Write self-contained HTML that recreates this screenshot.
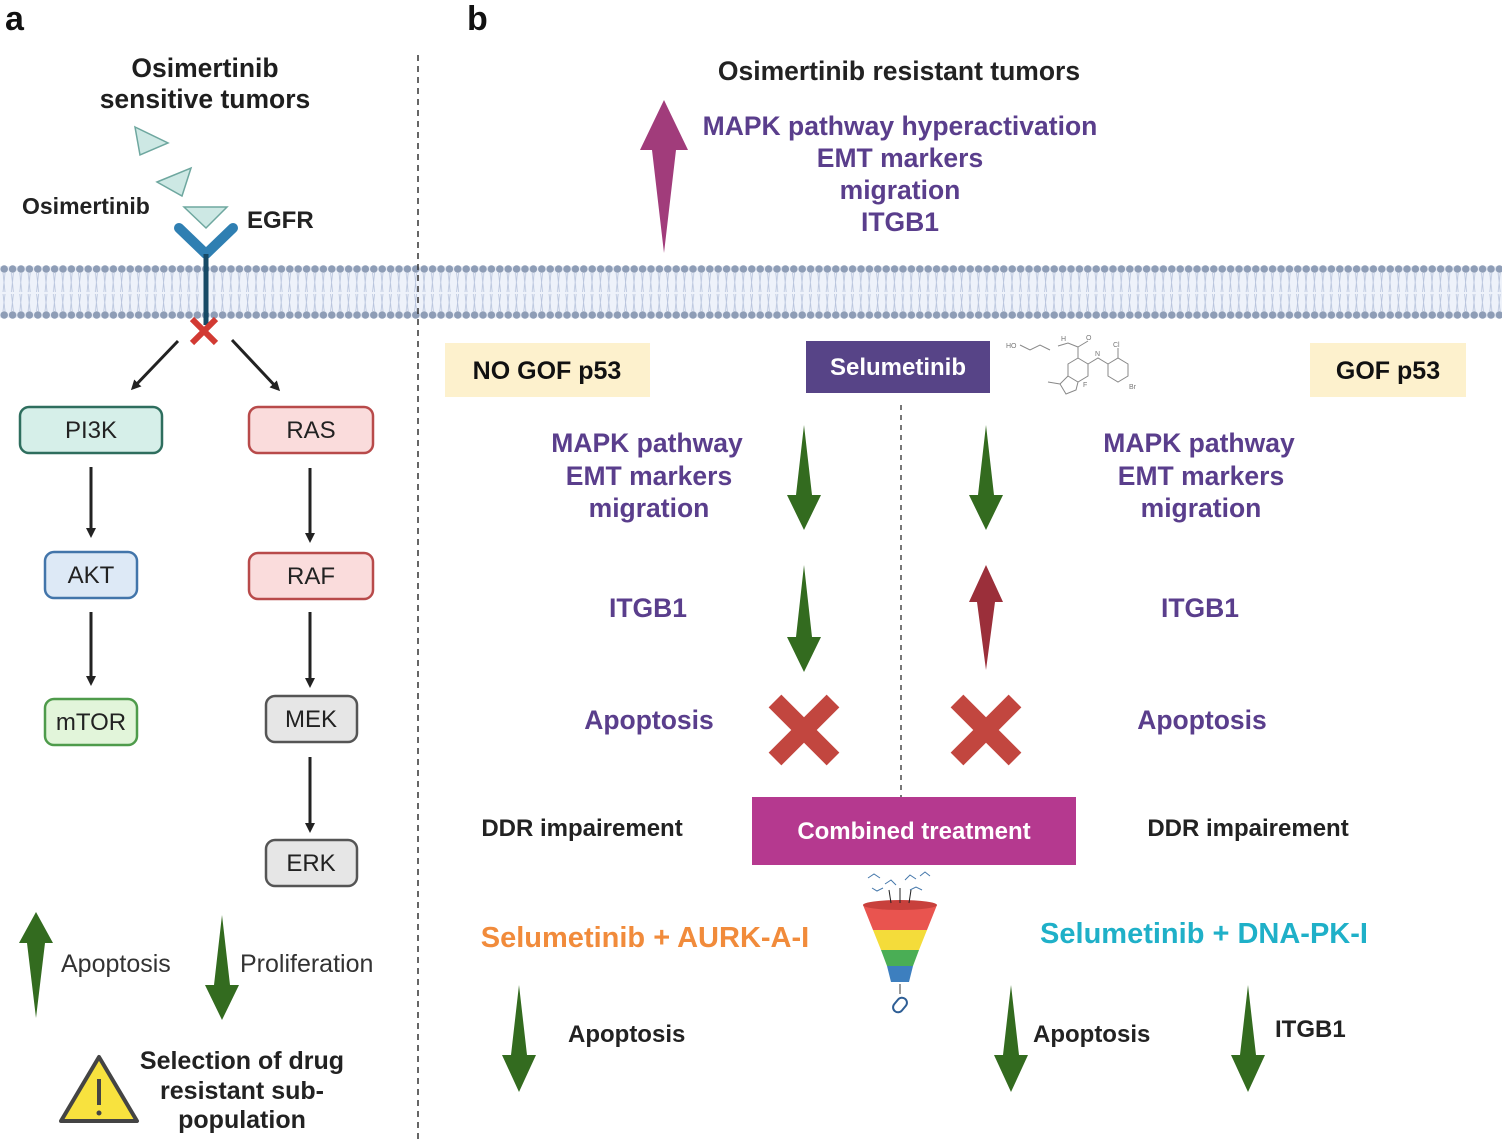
<!DOCTYPE html>
<html><head><meta charset="utf-8"><style>
html,body{margin:0;padding:0;background:#fff}
svg{display:block}
text{font-family:"Liberation Sans",Arial,sans-serif}
</style></head><body>
<svg width="1502" height="1144" viewBox="0 0 1502 1144" xmlns="http://www.w3.org/2000/svg">
<defs>
<pattern id="bead" x="0" y="262" width="8.4" height="60" patternUnits="userSpaceOnUse">
<path d="M3 11 L5 30 M5 11 L3 30 M3 32 L5 49 M5 32 L3 49" stroke="#b7c3dc" stroke-width="0.8" fill="none"/>
<circle cx="4.2" cy="7" r="3.8" fill="#8e9db6"/>
<circle cx="4.2" cy="53" r="3.8" fill="#8e9db6"/>
</pattern>
<marker id="ah" markerWidth="10" markerHeight="10" refX="7" refY="5" orient="auto" markerUnits="userSpaceOnUse" viewBox="0 0 10 10"><path d="M0,0 L10,5 L0,10 z" fill="#222"/></marker>
</defs>
<rect x="0" y="266" width="1502" height="52" fill="#eef2fa"/>
<rect x="0" y="262" width="1502" height="60" fill="url(#bead)"/>

<line x1="418" y1="55" x2="418" y2="1144" stroke="#333" stroke-width="1.5" stroke-dasharray="6,5"/>
<line x1="901" y1="405" x2="901" y2="797" stroke="#777" stroke-width="2" stroke-dasharray="5,5"/>

<text x="5" y="30" font-size="34" font-weight="bold" fill="#111">a</text>
<text x="467" y="30" font-size="34" font-weight="bold" fill="#111">b</text>

<g font-weight="bold" fill="#1e1e1e" font-size="26.5" text-anchor="middle">
<text x="205" y="77">Osimertinib</text>
<text x="205" y="108">sensitive tumors</text>
</g>
<text x="22" y="214" font-size="23" font-weight="bold" fill="#222">Osimertinib</text>
<text x="247" y="228" font-size="24" font-weight="bold" fill="#222">EGFR</text>
<polygon points="135,127 168,143 140,155" fill="#cde8e4" stroke="#6ea79f" stroke-width="1.5"/>
<polygon points="157,182 191,168 182,196" fill="#cde8e4" stroke="#6ea79f" stroke-width="1.5"/>
<polygon points="184,207 227,207 206,228" fill="#cde8e4" stroke="#6ea79f" stroke-width="1.5"/>
<path d="M179,228 L206,254 L233,228" fill="none" stroke="#2f7fb2" stroke-width="10" stroke-linecap="round" stroke-linejoin="round"/>
<line x1="206" y1="254" x2="206" y2="325" stroke="#174a66" stroke-width="5"/>
<path d="M192,319 L216,343 M216,319 L192,343" stroke="#d23a33" stroke-width="6"/>
<line x1="178" y1="341" x2="133" y2="388" stroke="#222" stroke-width="3" marker-end="url(#ah)"/>
<line x1="232" y1="340" x2="278" y2="389" stroke="#222" stroke-width="3" marker-end="url(#ah)"/>

<g font-size="24" text-anchor="middle" fill="#222" stroke-width="2.5">
<rect x="20" y="407" width="142" height="46" rx="9" fill="#d6efe9" stroke="#2e6e5e"/><text x="91" y="438" stroke="none">PI3K</text>
<rect x="249" y="407" width="124" height="46" rx="9" fill="#fadcdc" stroke="#b84a4a"/><text x="311" y="438" stroke="none">RAS</text>
<rect x="45" y="552" width="92" height="46" rx="9" fill="#dde9f6" stroke="#4275aa"/><text x="91" y="583" stroke="none">AKT</text>
<rect x="249" y="553" width="124" height="46" rx="9" fill="#fadcdc" stroke="#b84a4a"/><text x="311" y="584" stroke="none">RAF</text>
<rect x="45" y="699" width="92" height="46" rx="9" fill="#e2f5da" stroke="#4e9b4b"/><text x="91" y="730" stroke="none">mTOR</text>
<rect x="266" y="696" width="91" height="46" rx="9" fill="#e6e6e6" stroke="#555"/><text x="311" y="727" stroke="none">MEK</text>
<rect x="266" y="840" width="91" height="46" rx="9" fill="#e6e6e6" stroke="#555"/><text x="311" y="871" stroke="none">ERK</text>
</g>
<g stroke="#222" stroke-width="3" marker-end="url(#ah)">
<line x1="91" y1="467" x2="91" y2="535"/>
<line x1="310" y1="468" x2="310" y2="540"/>
<line x1="91" y1="612" x2="91" y2="683"/>
<line x1="310" y1="612" x2="310" y2="685"/>
<line x1="310" y1="757" x2="310" y2="830"/>
</g>

<g fill="#336b1f">
<polygon points="36,912 53,943 45,943 36,1018 27,943 19,943"/>
<polygon points="222,915 230,985 239,985 222,1020 205,985 214,985"/>
</g>
<text x="61" y="972" font-size="25" fill="#333">Apoptosis</text>
<text x="240" y="972" font-size="25" fill="#333">Proliferation</text>
<polygon points="61,1121 99,1057 137,1121" fill="#f8e23e" stroke="#444" stroke-width="4" stroke-linejoin="round"/>
<line x1="99" y1="1079" x2="99" y2="1105" stroke="#444" stroke-width="4"/>
<circle cx="99" cy="1113" r="2.5" fill="#444"/>
<g font-size="25" font-weight="bold" fill="#222" text-anchor="middle">
<text x="242" y="1069">Selection of drug</text>
<text x="242" y="1099">resistant sub-</text>
<text x="242" y="1128">population</text>
</g>

<text x="899" y="80" font-size="26.5" font-weight="bold" fill="#222" text-anchor="middle">Osimertinib resistant tumors</text>
<polygon points="664,100 688,150 676,150 664,253 652,150 640,150" fill="#a13c7b"/>
<g font-size="26.5" font-weight="bold" fill="#5a3e8c" text-anchor="middle">
<text x="900" y="135">MAPK pathway hyperactivation</text>
<text x="900" y="167">EMT markers</text>
<text x="900" y="199">migration</text>
<text x="900" y="231">ITGB1</text>
</g>

<rect x="445" y="343" width="205" height="54" fill="#fdf1cd"/>
<text x="547" y="379" font-size="25" font-weight="bold" fill="#111" text-anchor="middle">NO GOF p53</text>
<rect x="1310" y="343" width="156" height="54" fill="#fdf1cd"/>
<text x="1388" y="379" font-size="25" font-weight="bold" fill="#111" text-anchor="middle">GOF p53</text>
<rect x="806" y="341" width="184" height="52" fill="#574487"/>
<text x="898" y="375" font-size="24" font-weight="bold" fill="#fff" text-anchor="middle">Selumetinib</text>

<g stroke="#888" stroke-width="1" fill="none">
<path d="M1020,345 L1030,350 L1040,345 L1050,350 M1058,346 L1068,343 L1078,347 L1078,358 L1068,364 L1068,376 L1078,382 L1088,376 L1088,364 L1078,358 M1078,347 L1088,341 M1088,364 L1098,358 L1108,364 L1108,376 L1118,382 L1128,376 L1128,364 L1118,358 L1108,364 M1118,358 L1118,348 M1068,376 L1060,384 L1066,394 L1076,390 L1078,382 M1060,384 L1048,382"/>
</g>
<g font-size="7" fill="#777"><text x="1006" y="348">HO</text><text x="1061" y="341">H</text><text x="1086" y="340">O</text><text x="1095" y="356">N</text><text x="1113" y="347">Cl</text><text x="1129" y="389">Br</text><text x="1083" y="387">F</text></g>

<g font-size="26.5" font-weight="bold" fill="#5a3e8c" text-anchor="middle">
<text x="647" y="452">MAPK pathway</text>
<text x="649" y="485">EMT markers</text>
<text x="649" y="517">migration</text>
<text x="1199" y="452">MAPK pathway</text>
<text x="1201" y="485">EMT markers</text>
<text x="1201" y="517">migration</text>
<text x="648" y="617">ITGB1</text>
<text x="1200" y="617">ITGB1</text>
<text x="649" y="729">Apoptosis</text>
<text x="1202" y="729">Apoptosis</text>
</g>
<g fill="#336b1f">
<polygon points="804,425 812,495 821,495 804,530 787,495 796,495"/>
<polygon points="986,425 994,495 1003,495 986,530 969,495 978,495"/>
<polygon points="804,565 812,637 821,637 804,672 787,637 796,637"/>
<polygon points="519,985 527,1055 536,1055 519,1092 502,1055 511,1055"/>
<polygon points="1011,985 1019,1055 1028,1055 1011,1092 994,1055 1003,1055"/>
<polygon points="1248,985 1256,1055 1265,1055 1248,1092 1231,1055 1240,1055"/>
</g>
<polygon points="986,565 1003,602 995,602 986,670 977,602 969,602" fill="#9b2f3a"/>
<g stroke="#c2463f" stroke-width="18">
<path d="M775,701 L833,759 M833,701 L775,759"/>
<path d="M957,701 L1015,759 M1015,701 L957,759"/>
</g>

<text x="582" y="836" font-size="24" font-weight="bold" fill="#222" text-anchor="middle">DDR impairement</text>
<text x="1248" y="836" font-size="24" font-weight="bold" fill="#222" text-anchor="middle">DDR impairement</text>
<rect x="752" y="797" width="324" height="68" fill="#b5398f"/>
<text x="914" y="839" font-size="24" font-weight="bold" fill="#fff" text-anchor="middle">Combined treatment</text>

<g>
<path d="M863,905 L937,905 L927,930 L873,930 Z" fill="#e9544f"/>
<ellipse cx="900" cy="905" rx="37" ry="5" fill="#c8403c"/>
<path d="M873,930 L927,930 L919,950 L881,950 Z" fill="#f4dc3a"/>
<path d="M881,950 L919,950 L913,966 L887,966 Z" fill="#4aae55"/>
<path d="M887,966 L913,966 L909,982 L891,982 Z" fill="#3d7fbf"/>
<line x1="900" y1="984" x2="900" y2="994" stroke="#333" stroke-width="1"/>
<rect x="895" y="997" width="10" height="16" rx="5" transform="rotate(40 900 1005)" fill="#fff" stroke="#2e5e95" stroke-width="2"/>
<g stroke="#4477aa" stroke-width="1" fill="none"><path d="M868,878 l6,-4 l6,4 M885,884 l6,-4 l5,5 M905,880 l5,-5 l6,4 M920,876 l5,-4 l5,4 M872,888 l5,3 l6,-3 M910,890 l6,-3 l6,3"/></g>
<g stroke="#222" stroke-width="1"><line x1="889" y1="890" x2="891" y2="903"/><line x1="900" y1="888" x2="900" y2="903"/><line x1="911" y1="890" x2="909" y2="903"/></g>
</g>

<text x="645" y="947" font-size="29" font-weight="bold" fill="#f18b3b" text-anchor="middle">Selumetinib + AURK-A-I</text>
<text x="1204" y="943" font-size="29" font-weight="bold" fill="#1fb0c8" text-anchor="middle">Selumetinib + DNA-PK-I</text>
<text x="568" y="1042" font-size="24" font-weight="bold" fill="#222">Apoptosis</text>
<text x="1033" y="1042" font-size="24" font-weight="bold" fill="#222">Apoptosis</text>
<text x="1275" y="1037" font-size="24" font-weight="bold" fill="#222">ITGB1</text>
</svg>
</body></html>
